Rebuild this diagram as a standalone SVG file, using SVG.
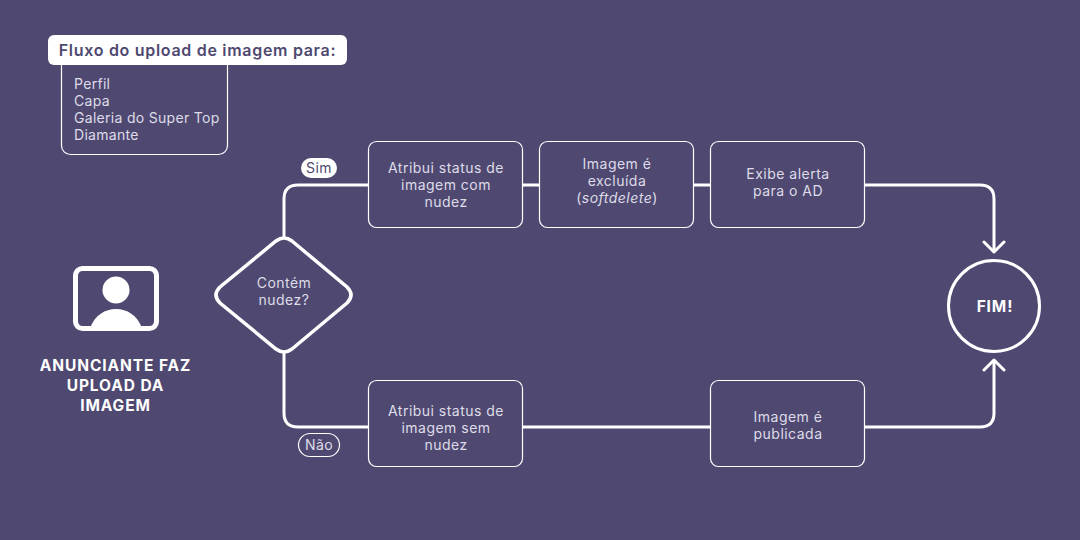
<svg xmlns="http://www.w3.org/2000/svg" width="1080" height="540" viewBox="0 0 1080 540">
<style>
text{font-family:"Inter","Noto Sans","Liberation Sans",sans-serif;fill:#dedce8;font-size:14px;font-weight:400;text-anchor:middle;letter-spacing:.48px}
.box{fill:#4f4971;stroke:#fff;stroke-width:1.2}
.con{fill:none;stroke:#fff;stroke-width:3}
text.b{font-weight:700;fill:#fff;font-size:15.5px;letter-spacing:.9px}
text.l{text-anchor:start;letter-spacing:.3px}
</style>
<rect width="1080" height="540" fill="#4f4971"/>
<g id="connectors">
<path class="con" d="M284 240V199Q284 185 298 185H368M523 185H539M694 185H710M865 185H980Q994 185 994 199V251M284 352V413Q284 427 298 427H368M523 427H710M865 427H980Q994 427 994 413V361"/>
<path class="con" stroke-linecap="round" stroke-linejoin="round" d="M984 242L994 252L1004 242M984 370L994 360L1004 370"/>
</g>
<g id="list"><rect class="box" x="61.500" y="50" width="166" height="104.500" rx="9"/>
<text class="l" x="74" y="89">Perfil</text><text class="l" x="74" y="106">Capa</text><text class="l" x="74" y="123">Galeria do Super Top</text><text class="l" x="74" y="140">Diamante</text></g>
<g id="title"><rect x="48" y="35" width="299" height="30" rx="6" fill="#fff"/><text x="197.500" y="56" style="font-size:16px;font-weight:600;fill:#4f4971;letter-spacing:.7px">Fluxo do upload de imagem para:</text></g>
<g id="user"><rect x="75.500" y="268.500" width="81" height="60" rx="7" fill="none" stroke="#fff" stroke-width="5"/><circle cx="116" cy="290" r="13.500" fill="#fff"/><path d="M90 328C95 315 105 309 116 309C127 309 137 315 142 328Z" fill="#fff"/>
<text class="b" x="115.500" y="371">ANUNCIANTE FAZ</text><text class="b" x="115.500" y="391">UPLOAD DA</text><text class="b" x="115.500" y="411">IMAGEM</text></g>
<g id="decision"><path d="M276 241Q284 235 292 241L347 287Q355 295 347 303L292 349Q284 355 276 349L220 303Q212 295 220 287Z" fill="#4f4971" stroke="#fff" stroke-width="3.500"/><text x="284" y="288">Contém</text><text x="284" y="305">nudez?</text></g>
<g id="sim"><rect x="301" y="158" width="36" height="20" rx="10" fill="#fff"/><text x="319" y="173" style="fill:#4f4971">Sim</text></g>
<g id="nao"><rect class="box" x="298.500" y="433.500" width="41" height="23" rx="11.500"/><text x="319" y="450">Não</text></g>
<g id="n1"><rect class="box" x="368.500" y="141.500" width="154" height="86" rx="8"/><text x="446" y="173">Atribui status de</text><text x="446" y="190">imagem com</text><text x="446" y="207">nudez</text></g>
<g id="n2"><rect class="box" x="539.500" y="141.500" width="154" height="86" rx="8"/><text x="617" y="169">Imagem é</text><text x="617" y="186">excluída</text><text x="617" y="203">(<tspan font-style="italic">softdelete</tspan>)</text></g>
<g id="n3"><rect class="box" x="710.500" y="141.500" width="154" height="86" rx="8"/><text x="788" y="179">Exibe alerta</text><text x="788" y="196">para o AD</text></g>
<g id="n4"><rect class="box" x="368.500" y="380.500" width="154" height="86" rx="8"/><text x="446" y="416">Atribui status de</text><text x="446" y="433">imagem sem</text><text x="446" y="450">nudez</text></g>
<g id="n5"><rect class="box" x="710.500" y="380.500" width="154" height="86" rx="8"/><text x="788" y="422">Imagem é</text><text x="788" y="439">publicada</text></g>
<g id="fim"><circle cx="994" cy="306" r="45.500" fill="#4f4971" stroke="#fff" stroke-width="3"/><text class="b" x="995" y="312">FIM!</text></g>
</svg>
